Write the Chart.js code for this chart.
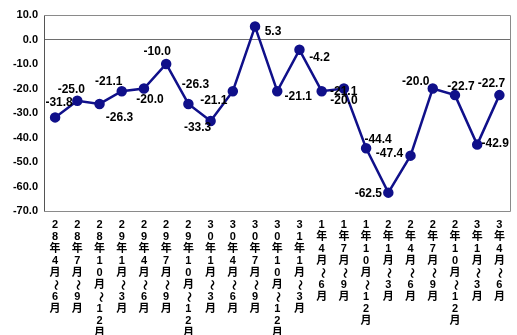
<!DOCTYPE html>
<html>
<head>
<meta charset="utf-8">
<script src="https://cdn.jsdelivr.net/npm/chart.js@4"></script>
<style>
  html, body { margin: 0; padding: 0; background: #ffffff; }
  #wrap { width: 517px; height: 335px; position: relative; }
</style>
</head>
<body>
<div id="wrap"><canvas id="c" width="517" height="335"></canvas></div>
<script>
// Quarterly periods
const categories = [
  '28年4月～6月', '28年7月～9月', '28年10月～12月',
  '29年1月～3月', '29年4月～6月', '29年7月～9月', '29年10月～12月',
  '30年1月～3月', '30年4月～6月', '30年7月～9月', '30年10月～12月',
  '31年1月～3月', '1年4月～6月', '1年7月～9月', '1年10月～12月',
  '2年1月～3月', '2年4月～6月', '2年7月～9月', '2年10月～12月',
  '3年1月～3月', '3年4月～6月'
];

// Index values per quarter
const values = [
  -31.8, -25.0, -26.3,
  -21.1, -20.0, -10.0, -26.3,
  -33.3, -21.1, 5.3, -21.1,
  -4.2, -21.1, -20.0, -44.4,
  -62.5, -47.4, -20.0, -22.7,
  -42.9, -22.7
];

// Y axis range and step
const yTicks = { min: -70, max: 10, step: 10 };

// Where each value label sits relative to its point (dx, dy in px)
const labelPlacement = [
  [4, -15], [-6, -11], [20, 14],
  [-13, -10], [6, 11], [-9, -12], [7, -19],
  [-13, 7], [-19, 9], [18, 5], [21, 5],
  [20, 8], [22, 0], [0, 12], [12, -9],
  [-20, 1], [-21, -2], [-17, -7], [6, -8],
  [18, -1], [-8, -11]
];

const FONT = '"Liberation Sans", Arial, "Noto Sans CJK JP", sans-serif';
const LINE = '#10108a';

// Frame around the plot area (top and right sides drawn in grey)
const framePlugin = {
  id: 'frame',
  beforeDatasetsDraw(chart) {
    const a = chart.chartArea;
    const ctx = chart.ctx;
    ctx.save();
    ctx.strokeStyle = '#8a8a8a';
    ctx.lineWidth = 1;
    ctx.beginPath();
    ctx.moveTo(a.left, Math.round(a.top) + 0.5);
    ctx.lineTo(Math.round(a.right) - 0.5, Math.round(a.top) + 0.5);
    ctx.lineTo(Math.round(a.right) - 0.5, Math.round(a.bottom) + 0.5);
    ctx.lineTo(a.left, Math.round(a.bottom) + 0.5);
    ctx.stroke();
    ctx.restore();
  }
};

// Vertical category labels, one character per line
const verticalLabels = {
  id: 'verticalLabels',
  afterDraw(chart) {
    const xs = chart.scales.x;
    const ctx = chart.ctx;
    ctx.save();
    ctx.fillStyle = '#000000';
    ctx.font = 'bold 11px ' + FONT;
    ctx.textAlign = 'center';
    ctx.textBaseline = 'middle';
    categories.forEach((label, i) => {
      const x = xs.getPixelForTick(i);
      let y = xs.top + 14;
      for (const ch of label) {
        if (ch === '～') {
          ctx.save();
          ctx.translate(x, y);
          ctx.rotate(Math.PI / 2);
          ctx.fillText(ch, 0, 0);
          ctx.restore();
        } else {
          ctx.fillText(ch, x, y);
        }
        y += 12;
      }
    });
    ctx.restore();
  }
};

// Value labels next to each point
const valueLabels = {
  id: 'valueLabels',
  afterDatasetsDraw(chart) {
    const meta = chart.getDatasetMeta(0);
    const ctx = chart.ctx;
    ctx.save();
    ctx.fillStyle = '#000000';
    ctx.font = 'bold 12px ' + FONT;
    ctx.textAlign = 'center';
    ctx.textBaseline = 'middle';
    meta.data.forEach((pt, i) => {
      const off = labelPlacement[i];
      ctx.fillText(values[i].toFixed(1), pt.x + off[0], pt.y + off[1]);
    });
    ctx.restore();
  }
};

new Chart(document.getElementById('c'), {
  type: 'line',
  data: {
    labels: categories,
    datasets: [{
      data: values,
      borderColor: LINE,
      backgroundColor: LINE,
      borderWidth: 2.5,
      pointRadius: 4,
      pointHoverRadius: 4,
      pointBackgroundColor: LINE,
      pointBorderColor: LINE,
      tension: 0,
      fill: false
    }]
  },
  options: {
    responsive: false,
    animation: false,
    events: [],
    layout: { padding: { top: 15, right: 2, left: 0, bottom: 0 } },
    plugins: { legend: { display: false }, tooltip: { enabled: false } },
    scales: {
      x: {
        offset: true,
        grid: { display: false, drawTicks: false },
        border: { display: false },
        ticks: { display: false },
        afterFit(scale) { scale.height = 124; }
      },
      y: {
        min: yTicks.min,
        max: yTicks.max,
        grid: {
          drawTicks: false,
          color: (c) => (c.tick && c.tick.value === 0 ? '#6e6e6e' : 'rgba(0,0,0,0)'),
          lineWidth: 1
        },
        border: { display: true, color: '#555555', width: 1 },
        ticks: {
          stepSize: yTicks.step,
          padding: 6,
          color: '#000000',
          font: { family: FONT, size: 11, weight: 'bold' },
          callback: (v) => Number(v).toFixed(1)
        },
        afterFit(scale) { scale.width = 44; }
      }
    }
  },
  plugins: [framePlugin, valueLabels, verticalLabels]
});
</script>
</body>
</html>
